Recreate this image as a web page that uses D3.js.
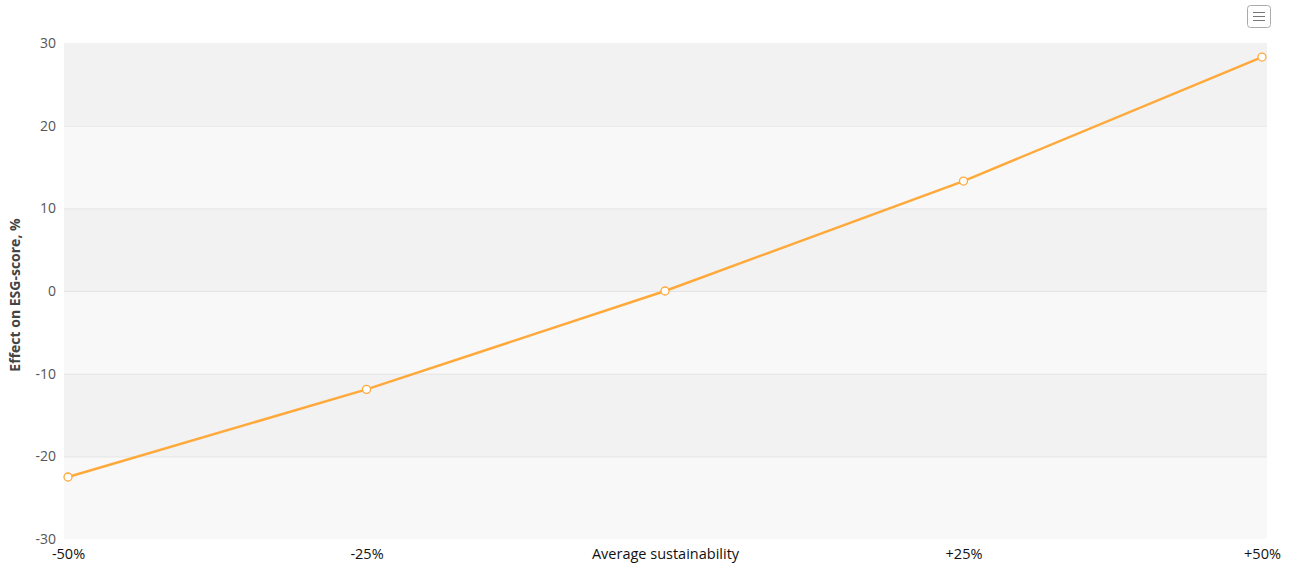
<!DOCTYPE html>
<html>
<head>
<meta charset="utf-8">
<script src="https://cdn.jsdelivr.net/npm/d3@7"></script>
<style>
  body { margin: 0; background: #fff; }
  text { font-family: "Open Sans", "Noto Sans", sans-serif; }
</style>
</head>
<body>
<script>
var width = 1295, height = 568;

// data
var categories = ["-50%", "-25%", "Average sustainability", "+25%", "+50%"];
var effect = [-22.5, -11.9, 0, 13.3, 28.3];
var yTicks = [-30, -20, -10, 0, 10, 20, 30];

var plot = {left: 64, right: 1267, top: 43, bottom: 539};

var svg = d3.select("body").append("svg")
            .attr("width", width)
            .attr("height", height);

var x = d3.scalePoint()
          .domain(categories)
          .range([plot.left + 4, plot.right - 5]);

var y = d3.scaleLinear()
          .domain([-30, 30])
          .range([plot.bottom, plot.top]);

// alternating bands
var bands = d3.pairs(yTicks);
svg.append("g").selectAll("rect")
    .data(bands)
    .enter().append("rect")
      .attr("x", plot.left)
      .attr("width", plot.right - plot.left)
      .attr("y", function(d){ return y(d[1]); })
      .attr("height", function(d){ return y(d[0]) - y(d[1]); })
      .attr("fill", function(d,i){ return i % 2 == 0 ? "#f8f8f8" : "#f2f2f2"; });

// grid lines
svg.append("g").selectAll("line")
    .data(yTicks.slice(1, -1))
    .enter().append("line")
      .attr("x1", plot.left).attr("x2", plot.right)
      .attr("y1", function(d){ return y(d) + 0.5; })
      .attr("y2", function(d){ return y(d) + 0.5; })
      .attr("stroke", "#e4e4e4")
      .attr("stroke-width", 1);

// y axis
var yAxis = d3.axisLeft(y).tickValues(yTicks).tickSize(0).tickPadding(8)
              .tickFormat(function(d){ return String(d); });
var gy = svg.append("g").attr("transform", "translate(" + plot.left + ",0)").call(yAxis);
gy.select(".domain").remove();
gy.selectAll("text")
    .style("font-family", "'Open Sans', 'Noto Sans', sans-serif")
    .style("font-size", "14px")
    .attr("fill", "#555");

// x axis
var xAxis = d3.axisBottom(x).tickSize(0).tickPadding(10);
var gx = svg.append("g").attr("transform", "translate(0," + plot.bottom + ")").call(xAxis);
gx.select(".domain").remove();
gx.selectAll("text")
    .style("font-family", "'Open Sans', 'Noto Sans', sans-serif")
    .style("font-size", "14.5px")
    .attr("fill", "#111");

// axis title
svg.append("text")
    .attr("transform", "translate(20," + ((plot.top + plot.bottom) / 2 + 4) + ") rotate(-90)")
    .attr("text-anchor", "middle")
    .style("font-size", "14px")
    .style("font-weight", "bold")
    .attr("fill", "#444")
    .text("Effect on ESG-score, %");

// line
var line = d3.line()
    .x(function(d,i){ return x(categories[i]); })
    .y(function(d){ return y(d); });

svg.append("path")
    .attr("d", line(effect))
    .attr("fill", "none")
    .attr("stroke", "#ffa93b")
    .attr("stroke-width", 2.5);

svg.append("g").selectAll("circle")
    .data(effect)
    .enter().append("circle")
      .attr("cx", function(d,i){ return x(categories[i]); })
      .attr("cy", function(d){ return y(d); })
      .attr("r", 4)
      .attr("fill", "#fff")
      .attr("stroke", "#ffa93b")
      .attr("stroke-width", 1.3);

// menu button
var menu = svg.append("g").attr("transform", "translate(1247,5)");
menu.append("rect")
    .attr("x", 0.5).attr("y", 0.5)
    .attr("width", 23).attr("height", 22)
    .attr("rx", 3)
    .attr("fill", "#fff")
    .attr("stroke", "#aaa");
menu.selectAll("line")
    .data([7, 11, 15])
    .enter().append("line")
      .attr("x1", 6).attr("x2", 18)
      .attr("y1", function(d){ return d + 0.5; })
      .attr("y2", function(d){ return d + 0.5; })
      .attr("stroke", "#777")
      .attr("stroke-width", 1);
</script>
</body>
</html>
